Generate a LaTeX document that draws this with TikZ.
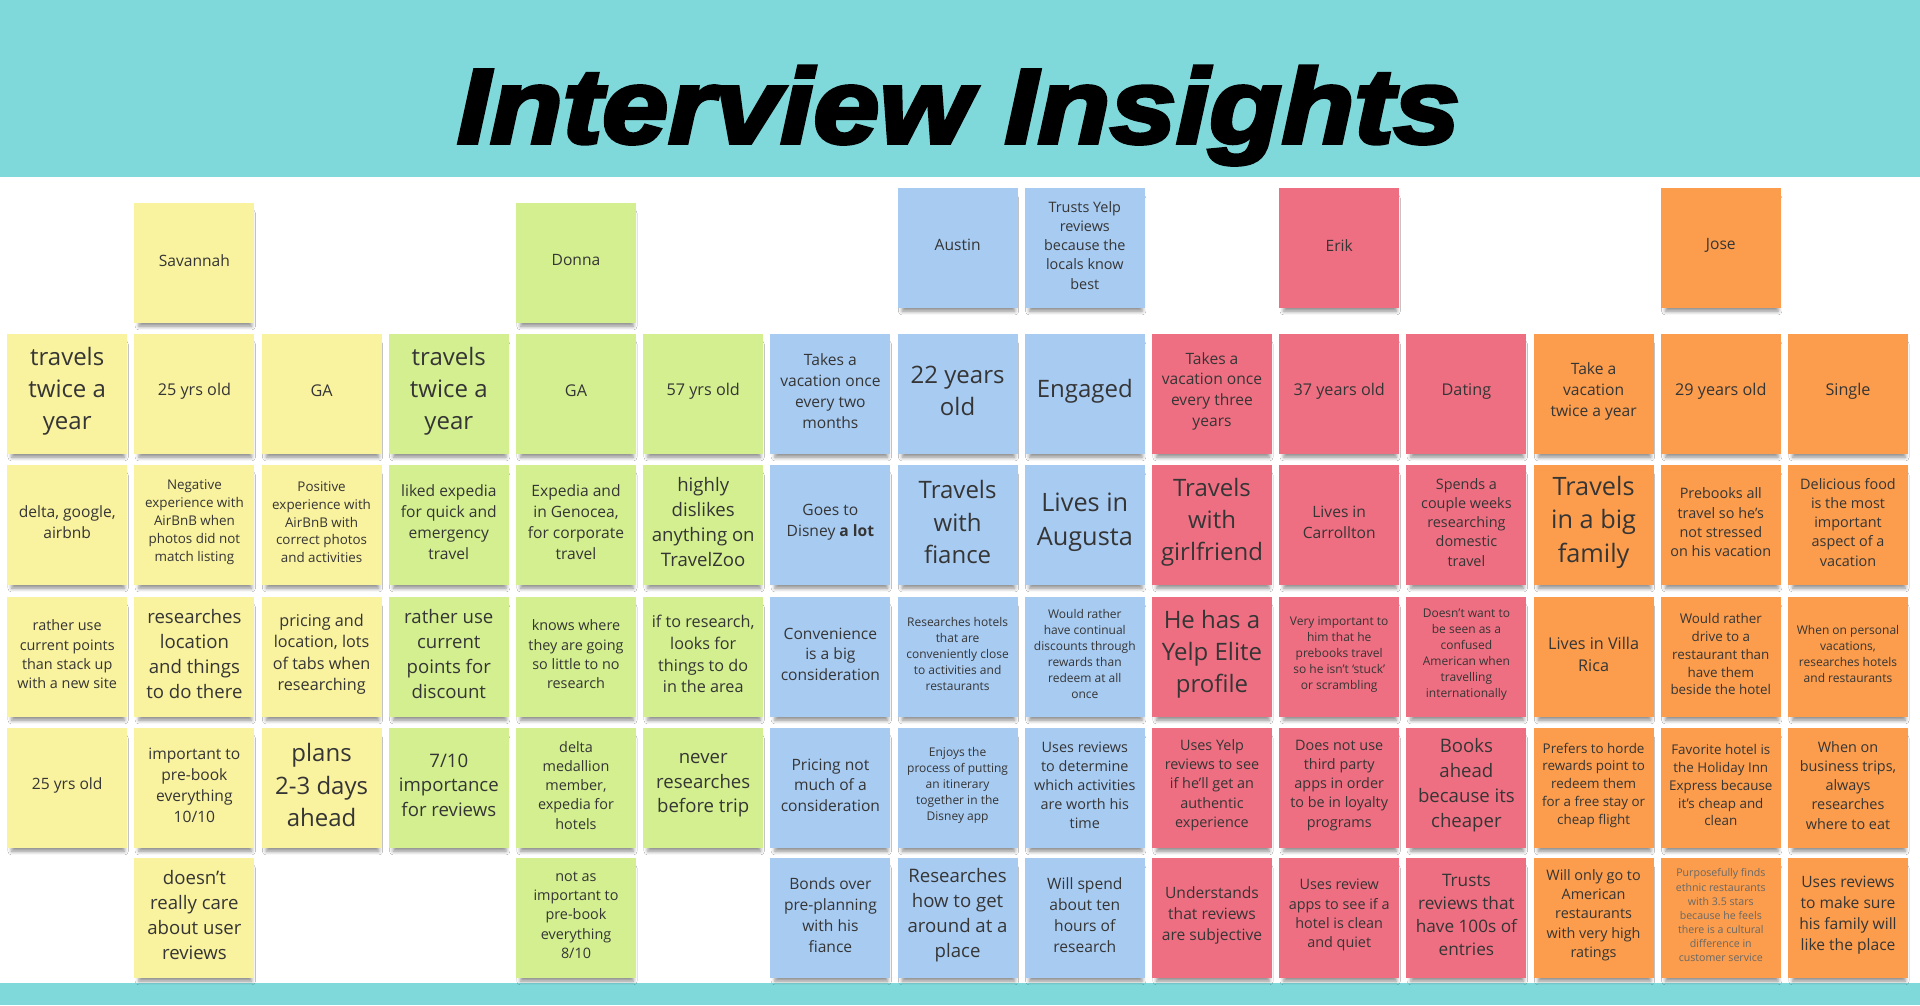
\documentclass[tikz,border=0pt]{standalone}
\usepackage{fontspec}
\setmainfont{Open Sans}
\newfontfamily\titlefont{Liberation Sans}[BoldItalicFeatures={FakeBold=3.5}]
\usetikzlibrary{shadows.blur}
\definecolor{band}{HTML}{7FD8DA}
\definecolor{cy}{HTML}{F9F29E}
\definecolor{cg}{HTML}{D3EF8F}
\definecolor{cb}{HTML}{A8CBF2}
\definecolor{cp}{HTML}{EF6F82}
\definecolor{co}{HTML}{FB9D4C}
\definecolor{ink}{HTML}{353535}
% #1 name, #2 column, #3 top y, #4 colour, #5 text style, #6 text
\newcommand\putnote[6]{%
  \node[note, fill=#4] (#1) at ({7+127.2*(#2-1)},#3) {};
  \node[txt, #5] (#1-t) at ([yshift=3pt]#1.center) {#6};}
\begin{document}
\begin{tikzpicture}[x=1pt,y=-1pt,
  note/.style={anchor=north west, minimum width=120pt, minimum height=120pt,
    inner sep=0pt,
    blur shadow={shadow xshift=1pt, shadow yshift=-7pt, shadow scale=0.94,
      shadow blur radius=4pt, shadow opacity=45}},
  txt/.style={align=center, text=ink, inner sep=0pt},
  sz10/.style={font=\fontsize{10.6}{14.1}\selectfont},
  sz12/.style={font=\fontsize{12}{16}\selectfont},
  sz13/.style={font=\fontsize{13.4}{17.8}\selectfont},
  sz14/.style={font=\fontsize{14.4}{19.2}\selectfont},
  sz15/.style={font=\fontsize{15.6}{20.8}\selectfont},
  sz16/.style={font=\fontsize{16.2}{21.6}\selectfont},
  sz17/.style={font=\fontsize{17.2}{22.9}\selectfont},
  sz18/.style={font=\fontsize{18.6}{24.8}\selectfont},
  sz24/.style={font=\fontsize{24}{32.3}\selectfont},
  sz25/.style={font=\fontsize{25.3}{33.7}\selectfont}]
\useasboundingbox (0,0) rectangle (1920,1005);
\fill[white] (0,0) rectangle (1920,1005);
\fill[band] (0,0) rectangle (1920,177);
\fill[band] (0,983) rectangle (1920,1005);
\node[anchor=base, inner sep=0pt] (title) at (958.5,143)
  {\scalebox{1.12}[1]{\titlefont\bfseries\itshape\fontsize{106}{110}\selectfont Interview Insights}};
% Savannah (yellow)
\putnote{y1a}{1}{334}{cy}{sz24}{travels\\twice a\\year}
\putnote{y1b}{1}{465}{cy}{sz15}{delta, google,\\airbnb}
\putnote{y1c}{1}{597}{cy}{sz14}{rather use\\current points\\than stack up\\with a new site}
\putnote{y1d}{1}{728}{cy}{sz15}{25 yrs old}
\putnote{y2h}{2}{203}{cy}{sz15}{Savannah}
\putnote{y2a}{2}{334}{cy}{sz16}{25 yrs old}
\putnote{y2b}{2}{465}{cy}{sz13}{Negative\\experience with\\AirBnB when\\photos did not\\match listing}
\putnote{y2c}{2}{597}{cy}{sz18}{researches\\location\\and things\\to do there}
\putnote{y2d}{2}{728}{cy}{sz15}{important to\\pre-book\\everything\\10/10}
\putnote{y2e}{2}{858}{cy}{sz18}{doesn't\\really care\\about user\\reviews}
\putnote{y3a}{3}{334}{cy}{sz16}{GA}
\putnote{y3b}{3}{465}{cy}{sz13}{Positive\\experience with\\AirBnB with\\correct photos\\and activities}
\putnote{y3c}{3}{597}{cy}{sz16}{pricing and\\location, lots\\of tabs when\\researching}
\putnote{y3d}{3}{728}{cy}{sz24}{plans\\2-3 days\\ahead}
% Donna (green)
\putnote{g1a}{4}{334}{cg}{sz24}{travels\\twice a\\year}
\putnote{g1b}{4}{465}{cg}{sz15}{liked expedia\\for quick and\\emergency\\travel}
\putnote{g1c}{4}{597}{cg}{sz18}{rather use\\current\\points for\\discount}
\putnote{g1d}{4}{728}{cg}{sz18}{7/10\\importance\\for reviews}
\putnote{g2h}{5}{203}{cg}{sz15}{Donna}
\putnote{g2a}{5}{334}{cg}{sz16}{GA}
\putnote{g2b}{5}{465}{cg}{sz15}{Expedia and\\in Genocea,\\for corporate\\travel}
\putnote{g2c}{5}{597}{cg}{sz14}{knows where\\they are going\\so little to no\\research}
\putnote{g2d}{5}{728}{cg}{sz14}{delta\\medallion\\member,\\expedia for\\hotels}
\putnote{g2e}{5}{858}{cg}{sz14}{not as\\important to\\pre-book\\everything\\8/10}
\putnote{g3a}{6}{334}{cg}{sz16}{57 yrs old}
\putnote{g3b}{6}{465}{cg}{sz18}{highly\\dislikes\\anything on\\TravelZoo}
\putnote{g3c}{6}{597}{cg}{sz16}{if to research,\\looks for\\things to do\\in the area}
\putnote{g3d}{6}{728}{cg}{sz18}{never\\researches\\before trip}
% Austin (blue)
\putnote{b1a}{7}{334}{cb}{sz15}{Takes a\\vacation once\\every two\\months}
\putnote{b1b}{7}{465}{cb}{sz15}{Goes to\\Disney \textbf{a lot}}
\putnote{b1c}{7}{597}{cb}{sz15}{Convenience\\is a big\\consideration}
\putnote{b1d}{7}{728}{cb}{sz15}{Pricing not\\much of a\\consideration}
\putnote{b1e}{7}{858}{cb}{sz15}{Bonds over\\pre-planning\\with his\\fiance}
\putnote{b2h}{8}{188}{cb}{sz15}{Austin}
\putnote{b2a}{8}{334}{cb}{sz24}{22 years\\old}
\putnote{b2b}{8}{465}{cb}{sz24}{Travels\\with\\fiance}
\putnote{b2c}{8}{597}{cb}{sz12}{Researches hotels\\that are\\conveniently close\\to activities and\\restaurants}
\putnote{b2d}{8}{728}{cb}{sz12}{Enjoys the\\process of putting\\an itinerary\\together in the\\Disney app}
\putnote{b2e}{8}{858}{cb}{sz18}{Researches\\how to get\\around at a\\place}
\putnote{b3h}{9}{188}{cb}{sz14}{Trusts Yelp\\reviews\\because the\\locals know\\best}
\putnote{b3a}{9}{334}{cb}{sz24}{Engaged}
\putnote{b3b}{9}{465}{cb}{sz25}{Lives in\\Augusta}
\putnote{b3c}{9}{597}{cb}{sz12}{Would rather\\have continual\\discounts through\\rewards than\\redeem at all\\once}
\putnote{b3d}{9}{728}{cb}{sz14}{Uses reviews\\to determine\\which activities\\are worth his\\time}
\putnote{b3e}{9}{858}{cb}{sz15}{Will spend\\about ten\\hours of\\research}
% Erik (pink)
\putnote{p1a}{10}{334}{cp}{sz15}{Takes a\\vacation once\\every three\\years}
\putnote{p1b}{10}{465}{cp}{sz24}{Travels\\with\\girlfriend}
\putnote{p1c}{10}{597}{cp}{sz24}{He has a\\Yelp Elite\\profile}
\putnote{p1d}{10}{728}{cp}{sz14}{Uses Yelp\\reviews to see\\if he'll get an\\authentic\\experience}
\putnote{p1e}{10}{858}{cp}{sz15}{Understands\\that reviews\\are subjective}
\putnote{p2h}{11}{188}{cp}{sz15}{Erik}
\putnote{p2a}{11}{334}{cp}{sz16}{37 years old}
\putnote{p2b}{11}{465}{cp}{sz15}{Lives in\\Carrollton}
\putnote{p2c}{11}{597}{cp}{sz12}{Very important to\\him that he\\prebooks travel\\so he isn't `stuck'\\or scrambling}
\putnote{p2d}{11}{728}{cp}{sz14}{Does not use\\third party\\apps in order\\to be in loyalty\\programs}
\putnote{p2e}{11}{858}{cp}{sz14}{Uses review\\apps to see if a\\hotel is clean\\and quiet}
\putnote{p3a}{12}{334}{cp}{sz16}{Dating}
\putnote{p3b}{12}{465}{cp}{sz14}{Spends a\\couple weeks\\researching\\domestic\\travel}
\putnote{p3c}{12}{597}{cp}{sz12}{Doesn't want to\\be seen as a\\confused\\American when\\travelling\\internationally}
\putnote{p3d}{12}{728}{cp}{sz18}{Books\\ahead\\because its\\cheaper}
\putnote{p3e}{12}{858}{cp}{sz17}{Trusts\\reviews that\\have 100s of\\entries}
% Jose (orange)
\putnote{o1a}{13}{334}{co}{sz15}{Take a\\vacation\\twice a year}
\putnote{o1b}{13}{465}{co}{sz25}{Travels\\in a big\\family}
\putnote{o1c}{13}{597}{co}{sz16}{Lives in Villa\\Rica}
\putnote{o1d}{13}{728}{co}{sz13}{Prefers to horde\\rewards point to\\redeem them\\for a free stay or\\cheap flight}
\putnote{o1e}{13}{858}{co}{sz14}{Will only go to\\American\\restaurants\\with very high\\ratings}
\putnote{o2h}{14}{188}{co}{sz15}{Jose}
\putnote{o2a}{14}{334}{co}{sz16}{29 years old}
\putnote{o2b}{14}{465}{co}{sz14}{Prebooks all\\travel so he's\\not stressed\\on his vacation}
\putnote{o2c}{14}{597}{co}{sz13}{Would rather\\drive to a\\restaurant than\\have them\\beside the hotel}
\putnote{o2d}{14}{728}{co}{sz13}{Favorite hotel is\\the Holiday Inn\\Express because\\it's cheap and\\clean}
\putnote{o2e}{14}{858}{co}{sz10,text=ink!75}{Purposefully finds\\ethnic restaurants\\with 3.5 stars\\because he feels\\there is a cultural\\difference in\\customer service}
\putnote{o3a}{15}{334}{co}{sz16}{Single}
\putnote{o3b}{15}{465}{co}{sz14}{Delicious food\\is the most\\important\\aspect of a\\vacation}
\putnote{o3c}{15}{597}{co}{sz12}{When on personal\\vacations,\\researches hotels\\and restaurants}
\putnote{o3d}{15}{728}{co}{sz14}{When on\\business trips,\\always\\researches\\where to eat}
\putnote{o3e}{15}{858}{co}{sz15}{Uses reviews\\to make sure\\his family will\\like the place}
\end{tikzpicture}
\end{document}
